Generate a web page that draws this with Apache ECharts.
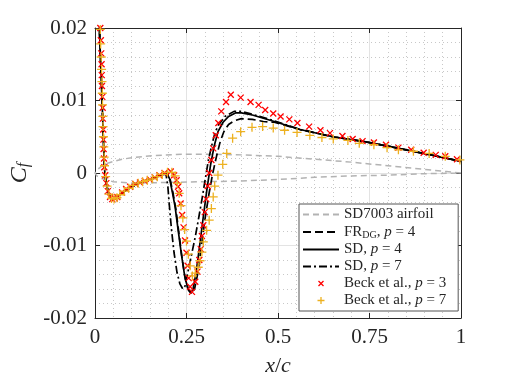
<!DOCTYPE html>
<html><head><meta charset="utf-8">
<script src="https://cdn.jsdelivr.net/npm/echarts@6/dist/echarts.min.js"></script>
<style>html,body{margin:0;padding:0;background:#fff}#c{width:509px;height:382px}</style>
</head><body><div id="c"></div>
<script>
// ---- data ----
const xTickLabels = ['0', '0.25', '0.5', '0.75', '1'];
const yTickLabels = ['-0.02', '-0.01', '0', '0.01', '0.02'];

const airfoil = [
  [1,0],[0.96,0.0002],[0.9,0.0005],[0.8,0.0010],[0.7,0.0015],[0.6,0.0019],[0.5,0.0023],[0.4,0.0025],
  [0.3,0.0026],[0.24,0.0026],[0.16,0.0024],[0.1,0.0021],[0.074,0.0019],[0.03,0.0013],[0.015,0.0008],[0.005,0.0004],[0,0],
  [0.005,-0.0004],[0.02,-0.0008],[0.05,-0.0012],[0.1,-0.0014],[0.2,-0.0013],[0.3,-0.0012],[0.4,-0.0011],
  [0.5,-0.0009],[0.6,-0.0006],[0.7,-0.0004],[0.8,-0.0003],[0.9,-0.0001],[1,0]
];

const frdgP4 = [
  [0.011,0.0215],[0.012,0.020],[0.0145,0.0165],[0.017,0.0135],[0.019,0.0105],[0.021,0.0075],[0.023,0.0045],
  [0.025,0.0015],[0.027,0.0],[0.031,-0.0015],[0.037,-0.0028],[0.045,-0.0036],[0.052,-0.0036],[0.07,-0.0029],
  [0.1,-0.0019],[0.13,-0.0012],[0.16,-0.0007],[0.185,-0.0002],[0.197,0.0],[0.205,-0.0008],[0.213,-0.0027],
  [0.221,-0.0050],[0.229,-0.0082],[0.238,-0.0118],[0.247,-0.0147],[0.256,-0.0162],[0.264,-0.0166],[0.272,-0.0160],
  [0.281,-0.0138],[0.291,-0.0100],[0.301,-0.0062],[0.311,-0.0030],[0.321,-0.0002],[0.332,0.0023],[0.342,0.0043],
  [0.352,0.0057],[0.365,0.0067],[0.38,0.0072],[0.40,0.0075],[0.43,0.0074],[0.46,0.0071],[0.49,0.0070],
  [0.56,0.0060],[0.65,0.0050],[0.74,0.0043],[0.83,0.0034],[0.917,0.0025],[1.0,0.0016]
];

const sdP4 = [
  [0.011,0.0215],[0.012,0.020],[0.0145,0.0165],[0.017,0.0135],[0.019,0.0105],[0.021,0.0075],[0.023,0.0045],
  [0.025,0.0015],[0.027,0.0],[0.031,-0.0015],[0.037,-0.0028],[0.045,-0.0036],[0.052,-0.0036],[0.07,-0.0029],
  [0.1,-0.0019],[0.13,-0.0012],[0.16,-0.0007],[0.185,-0.0002],[0.196,0.0],[0.204,-0.0008],[0.212,-0.0028],
  [0.219,-0.0047],[0.227,-0.0078],[0.236,-0.0112],[0.245,-0.0142],[0.254,-0.0160],[0.262,-0.0166],[0.268,-0.0160],
  [0.276,-0.0138],[0.286,-0.0100],[0.296,-0.0060],[0.306,-0.0022],[0.316,0.0012],[0.326,0.0038],[0.336,0.0057],
  [0.35,0.0070],[0.365,0.0078],[0.385,0.0083],[0.40,0.0083],[0.43,0.0080],[0.49,0.0071],[0.56,0.0060],
  [0.65,0.0050],[0.74,0.0043],[0.83,0.0034],[0.917,0.0025],[1.0,0.0016]
];

const sdP7 = [
  [0.011,0.0215],[0.012,0.020],[0.0145,0.0165],[0.017,0.0135],[0.019,0.0105],[0.021,0.0075],[0.023,0.0045],
  [0.025,0.0015],[0.027,0.0],[0.031,-0.0015],[0.037,-0.0028],[0.045,-0.0036],[0.052,-0.0036],[0.07,-0.0029],
  [0.1,-0.0019],[0.13,-0.0012],[0.16,-0.0007],[0.185,-0.0002],[0.194,-0.0002],[0.199,-0.0018],[0.203,-0.0044],
  [0.209,-0.0078],[0.216,-0.0110],[0.224,-0.0137],[0.232,-0.0153],[0.240,-0.0160],[0.246,-0.0156],[0.254,-0.0136],
  [0.264,-0.0112],[0.274,-0.0088],[0.284,-0.0060],[0.293,-0.0034],[0.302,-0.0006],[0.31,0.0018],[0.318,0.0036],
  [0.327,0.0054],[0.337,0.0066],[0.355,0.0078],[0.38,0.0085],[0.40,0.0085],[0.43,0.0081],[0.49,0.0072],
  [0.56,0.0060],[0.65,0.0050],[0.74,0.0043],[0.83,0.0034],[0.917,0.0025],[1.0,0.0016]
];

const beckP3 = [
  [0.0145,0.0200],[0.016,0.0183],[0.017,0.0165],[0.018,0.0150],[0.0185,0.0135],[0.019,0.0120],[0.020,0.0105],
  [0.021,0.0090],[0.0215,0.0075],[0.0225,0.0060],[0.023,0.0046],[0.0235,0.0033],[0.0245,0.0020],[0.0255,0.0008],
  [0.028,-0.0003],[0.031,-0.0014],[0.035,-0.0025],[0.041,-0.0033],[0.047,-0.0036],[0.054,-0.0035],[0.061,-0.0033],
  [0.074,-0.0027],[0.085,-0.0022],[0.096,-0.0019],[0.110,-0.0015],[0.123,-0.0013],[0.136,-0.0011],[0.150,-0.0009],
  [0.163,-0.0006],[0.176,-0.0003],[0.190,0.0000],[0.207,0.0002],[0.216,-0.0003],[0.223,-0.0010],[0.227,-0.0019],
  [0.230,-0.0028],[0.234,-0.0042],[0.238,-0.0058],[0.242,-0.0075],[0.246,-0.0093],[0.250,-0.0110],[0.253,-0.0128],
  [0.256,-0.0145],[0.260,-0.0157],[0.265,-0.0164],[0.274,-0.0150],[0.280,-0.0136],[0.285,-0.0120],[0.289,-0.0105],
  [0.292,-0.0087],[0.296,-0.0072],[0.300,-0.0054],[0.304,-0.0036],[0.308,-0.0018],[0.312,0.0000],[0.318,0.0018],
  [0.323,0.0034],[0.330,0.0052],[0.337,0.0069],[0.345,0.0085],[0.358,0.0098],[0.371,0.0108],[0.398,0.0104],
  [0.425,0.0098],[0.447,0.0094],[0.465,0.0087],[0.487,0.0082],[0.507,0.0078],[0.531,0.0074],[0.553,0.0069],
  [0.585,0.0064],[0.616,0.0059],[0.642,0.0055],[0.676,0.0051],[0.704,0.0047],[0.731,0.0044],[0.762,0.0042],
  [0.795,0.0039],[0.829,0.0035],[0.864,0.0032],[0.898,0.0028],[0.931,0.0025],[0.957,0.0023],[0.989,0.0019]
];

const beckP7 = [
  [0.0145,0.0198],[0.0155,0.0178],[0.017,0.0160],[0.018,0.0143],[0.019,0.0126],[0.020,0.0110],[0.0205,0.0094],
  [0.0215,0.0078],[0.022,0.0064],[0.023,0.0050],[0.024,0.0036],[0.025,0.0022],[0.026,0.0010],[0.029,-0.0005],
  [0.033,-0.0018],[0.038,-0.0029],[0.045,-0.0035],[0.052,-0.0036],[0.060,-0.0034],[0.068,-0.0030],[0.080,-0.0025],
  [0.092,-0.0021],[0.104,-0.0017],[0.118,-0.0014],[0.130,-0.0012],[0.143,-0.0010],[0.157,-0.0008],[0.170,-0.0005],
  [0.184,-0.0002],[0.198,0.0001],[0.210,0.0001],[0.219,-0.0004],[0.225,-0.0014],[0.230,-0.0028],[0.235,-0.0045],
  [0.240,-0.0062],[0.245,-0.0078],[0.250,-0.0094],[0.255,-0.0112],[0.260,-0.0128],[0.266,-0.0142],[0.274,-0.0138],
  [0.282,-0.0130],[0.287,-0.0121],[0.292,-0.0109],[0.296,-0.0095],[0.305,-0.0079],[0.312,-0.0065],[0.318,-0.0049],
  [0.323,-0.0033],[0.327,-0.0018],[0.336,-0.0003],[0.349,0.0012],[0.360,0.0027],[0.376,0.0048],[0.398,0.0057],
  [0.429,0.0063],[0.458,0.0064],[0.487,0.0062],[0.518,0.0059],[0.552,0.0056],[0.587,0.0052],[0.620,0.0049],
  [0.651,0.0047],[0.691,0.0045],[0.722,0.0041],[0.762,0.0039],[0.798,0.0035],[0.829,0.0032],[0.870,0.0030],
  [0.913,0.0027],[0.957,0.0023],[0.997,0.0018]
];

const seriesNames = ['SD7003 airfoil', 'FRDG, p = 4', 'SD, p = 4', 'SD, p = 7', 'Beck et al., p = 3', 'Beck et al., p = 7'];
const legendLabels = {
  'SD7003 airfoil': '{n|SD7003 airfoil}',
  'FRDG, p = 4': '{n|FR}{s|DG}{n|, }{i|p}{n| = 4}',
  'SD, p = 4': '{n|SD, }{i|p}{n| = 4}',
  'SD, p = 7': '{n|SD, }{i|p}{n| = 7}',
  'Beck et al., p = 3': '{n|Beck et al., }{i|p}{n| = 3}',
  'Beck et al., p = 7': '{n|Beck et al., }{i|p}{n| = 7}'
};

// ---- chart ----
const FONT = 'Liberation Serif';
const AX = '#262626';
const chart = echarts.init(document.getElementById('c'), null, {renderer: 'canvas'});
const crossSym = 'path://M0,0L6,6M6,0L0,6';
const plusSym = 'path://M0,4.5L9,4.5M4.5,0L4.5,9';
const crossIcon = 'path://M0,0M12,12M3.5,3.5L8.5,8.5M8.5,3.5L3.5,8.5';
const plusIcon = 'path://M0,0M12,12M2.5,6L9.5,6M6,2.5L6,9.5';
const noMarker = {color: 'rgba(0,0,0,0)', borderColor: 'rgba(0,0,0,0)', borderWidth: 0};

const richText = {
  n: {fontFamily: FONT, fontSize: 15, color: AX, lineHeight: 16},
  i: {fontFamily: FONT, fontSize: 15, fontStyle: 'italic', color: AX, lineHeight: 16},
  s: {fontFamily: FONT, fontSize: 10, color: AX, padding: [6, 0, 0, 0], lineHeight: 16}
};

function mainX(extra) {
  return Object.assign({
    type: 'value', min: 0, max: 1, interval: 0.25,
    axisLine: {show: true, onZero: false, lineStyle: {color: AX, width: 1}},
    axisTick: {show: true, inside: true, length: 5, lineStyle: {color: AX, width: 1}},
  }, extra);
}
function mainY(extra) {
  return Object.assign({
    type: 'value', min: -0.02, max: 0.02, interval: 0.01,
    axisLine: {show: true, onZero: false, lineStyle: {color: AX, width: 1}},
    axisTick: {show: true, inside: true, length: 5, lineStyle: {color: AX, width: 1}},
  }, extra);
}

const option = {
  animation: false,
  backgroundColor: '#fff',
  grid: {left: 85, right: 48, top: 28, bottom: 64, containLabel: false},
  xAxis: [
    mainX({
      position: 'bottom',
      axisLabel: {formatter: v => xTickLabels[Math.round(v / 0.25)], fontFamily: FONT, fontSize: 21, color: AX, margin: 9},
      splitLine: {show: true, lineStyle: {color: '#e3e3e3', width: 1}},
      minorTick: {show: false, splitNumber: 5},
      minorSplitLine: {show: true, lineStyle: {color: '#c8c8c8', width: 1, type: [1, 3]}},
      name: '{i|x}{n|/}{i|c}', nameLocation: 'middle', nameGap: 37,
      nameTextStyle: {rich: {
        i: {fontFamily: FONT, fontSize: 22, fontStyle: 'italic', color: AX},
        n: {fontFamily: FONT, fontSize: 22, color: AX}
      }}
    }),
    mainX({position: 'top', axisLabel: {show: false}, splitLine: {show: false}})
  ],
  yAxis: [
    mainY({
      position: 'left',
      axisLabel: {formatter: v => yTickLabels[Math.round((v + 0.02) / 0.01)], fontFamily: FONT, fontSize: 21, color: AX, margin: 8},
      splitLine: {show: true, lineStyle: {color: '#e3e3e3', width: 1}},
      minorTick: {show: false, splitNumber: 5},
      minorSplitLine: {show: true, lineStyle: {color: '#c8c8c8', width: 1, type: [1, 3]}},
      name: '{c|C}{f|f}', nameLocation: 'middle', nameGap: 63, nameRotate: 90,
      nameTextStyle: {rich: {
        c: {fontFamily: FONT, fontSize: 24, fontStyle: 'italic', color: AX},
        f: {fontFamily: FONT, fontSize: 16, fontStyle: 'italic', color: AX, padding: [8, 0, 0, 0]}
      }}
    }),
    mainY({position: 'right', axisLabel: {show: false}, splitLine: {show: false}})
  ],
  legend: {
    orient: 'vertical', left: 299, top: 204,
    itemWidth: 36, itemHeight: 12, itemGap: 2,
    padding: [3, 12, 3, 3],
    borderColor: '#555', borderWidth: 1, backgroundColor: '#fff',
    selectedMode: false,
    textStyle: {fontFamily: FONT, fontSize: 15, color: AX, rich: richText},
    formatter: name => legendLabels[name],
    data: [
      {name: seriesNames[0], itemStyle: noMarker},
      {name: seriesNames[1], itemStyle: noMarker},
      {name: seriesNames[2], itemStyle: noMarker},
      {name: seriesNames[3], itemStyle: noMarker},
      {name: seriesNames[4], icon: crossIcon, itemStyle: {color: '#ff0000', borderColor: '#ff0000', borderWidth: 1.3}},
      {name: seriesNames[5], icon: plusIcon, itemStyle: {color: '#edb120', borderColor: '#edb120', borderWidth: 1.3}}
    ]
  },
  series: [
    {name: seriesNames[0], type: 'line', data: airfoil, symbol: 'none', showSymbol: false,
      lineStyle: {color: '#b3b3b3', width: 1.5, type: [6, 4]}, itemStyle: {color: '#b3b3b3'}, z: 2},
    {name: seriesNames[1], type: 'line', data: frdgP4, symbol: 'none', showSymbol: false,
      lineStyle: {color: '#000', width: 1.7, type: [8, 4]}, itemStyle: {color: '#000'}, z: 3},
    {name: seriesNames[2], type: 'line', data: sdP4, symbol: 'none', showSymbol: false,
      lineStyle: {color: '#000', width: 1.7, type: 'solid'}, itemStyle: {color: '#000'}, z: 3},
    {name: seriesNames[3], type: 'line', data: sdP7, symbol: 'none', showSymbol: false,
      lineStyle: {color: '#000', width: 1.7, type: [8, 3, 2, 3]}, itemStyle: {color: '#000'}, z: 3},
    {name: seriesNames[4], type: 'scatter', data: beckP3, symbol: crossSym, symbolSize: 6, symbolKeepAspect: true,
      itemStyle: {color: '#ff0000', borderColor: '#ff0000', borderWidth: 1.3, opacity: 1}, z: 4},
    {name: seriesNames[5], type: 'scatter', data: beckP7, symbol: plusSym, symbolSize: 9, symbolKeepAspect: true,
      itemStyle: {color: '#edb120', borderColor: '#edb120', borderWidth: 1.3, opacity: 1}, z: 5}
  ]
};
chart.setOption(option);
</script>
</body></html>
